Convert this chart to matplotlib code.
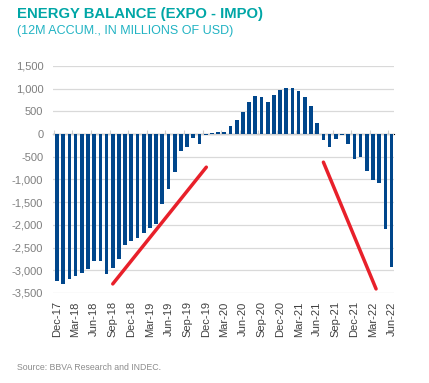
import matplotlib
matplotlib.use("Agg")
import matplotlib.pyplot as plt
import pandas as pd

plt.rcParams['font.family'] = ['Liberation Sans', 'DejaVu Sans']

# monthly 12m accumulated energy balance, Dec-17 .. Jun-22
months = pd.date_range('2017-12-01', '2022-06-01', freq='MS')
balance = [-3243, -3294, -3191, -3132, -3051, -2971, -2787, -2794, -3088, -2949,
           -2757, -2449, -2346, -2279, -2184, -2066, -1971, -1544, -1213, -846,
           -375, -279, -96, -221, -30, 20, 40, 45, 176, 309,
           478, 699, 831, 816, 706, 860, 963, 1022, 1007, 949,
           816, 625, 243, -140, -279, -118, -30, -213, -559, -500,
           -816, -1007, -1088, -2081, -2926]
labels = [m.strftime('%b-%y') for m in months]

# red trend strokes drawn on the original (bar index, value)
arrow1_x = [9.0, 24.1]
arrow1_y = [-3300, -730]
arrow2_x = [43.0, 51.5]
arrow2_y = [-620, -3410]

fig = plt.figure(figsize=(4.29, 3.83), dpi=100)
ax = fig.add_axes([0.1235, 0.235, 0.795, 0.593])

x = range(len(balance))
ax.bar(x, balance, width=0.6, color='#00468B', zorder=3)

ax.plot(arrow1_x, arrow1_y, color='#E8202A', lw=2.5, solid_capstyle='round', zorder=4)
ax.plot(arrow2_x, arrow2_y, color='#E8202A', lw=2.5, solid_capstyle='round', zorder=4)

ax.set_ylim(-3500, 1500)
ax.set_xlim(-0.65, 54.4)
ax.set_yticks(range(-3500, 1501, 500))
ax.set_yticklabels([f'{v:,}' for v in range(-3500, 1501, 500)])
ax.yaxis.grid(True, color='#D9D9D9', lw=0.9, zorder=0)
ax.axhline(0, color='#D0D0D0', lw=0.9, zorder=2)

ax.set_xticks(list(x)[::3])
ax.set_xticklabels(labels[::3], rotation=90)
ax.tick_params(axis='x', length=0, pad=6, labelsize=8, labelcolor='#404040')
ax.tick_params(axis='y', length=0, pad=7, labelsize=8, labelcolor='#7F7F7F')
for s in ax.spines.values():
    s.set_visible(False)

# small category ticks along the zero line
sec = ax.secondary_xaxis(0.7)
sec.set_xticks([i - 0.5 for i in list(x)[::3]])
sec.set_xticklabels([])
sec.tick_params(length=3, color='#D0D0D0', width=0.8)
sec.spines['bottom'].set_visible(False)

fig.text(0.04, 0.952, 'ENERGY BALANCE (EXPO - IMPO)', fontsize=10.7,
         fontweight='bold', color='#00A6A6', va='baseline')
fig.text(0.04, 0.91, '(12M ACCUM., IN MILLIONS OF USD)', fontsize=9,
         color='#21B3C3', va='baseline')
fig.text(0.04, 0.035, 'Source: BBVA Research and INDEC.', fontsize=6.3,
         color='#8C8C8C', va='baseline')

fig.savefig('out.png', dpi=100)
